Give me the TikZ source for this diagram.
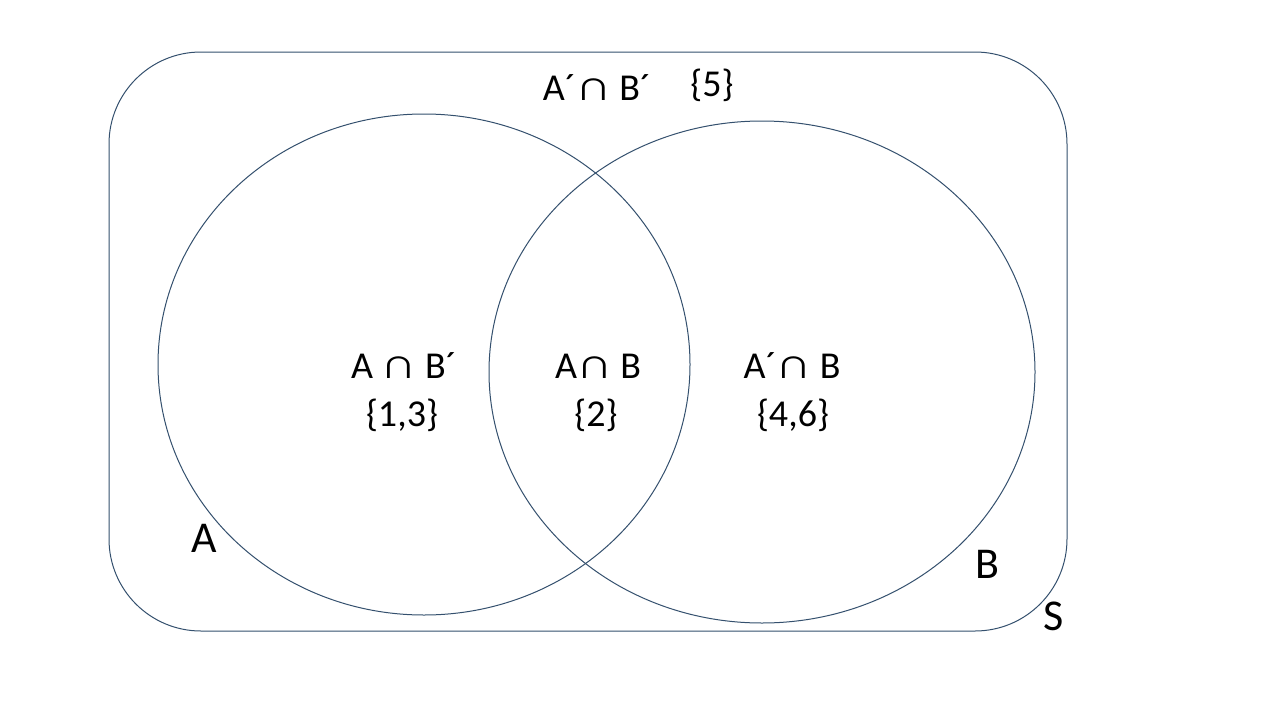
\documentclass[tikz,border=0pt]{standalone}
\usepackage{fontspec}
\setmainfont{Carlito}
\definecolor{edge}{HTML}{34506E}
\newcommand{\cp}{\scalebox{1.3}[1.1]{∩}}
\tikzset{
  outline/.style={draw=edge, line width=1pt},
  lbl/.style={font=\fontsize{38}{45}\selectfont, inner sep=0pt, anchor=base},
  toplbl/.style={font=\fontsize{38}{45}\selectfont, inner sep=0pt, anchor=base},
  setlbl/.style={font=\fontsize{44}{52}\selectfont, inner sep=0pt, anchor=base},
}
\begin{document}
\begin{tikzpicture}[x=1pt,y=-1pt]
\useasboundingbox (0,0) rectangle (1280,720);
\fill[white] (0,0) rectangle (1280,720);
\draw[outline, rounded corners=92pt] (109,52) rectangle (1067,631);
\draw[outline] (424,364.5) ellipse [x radius=266, y radius=250.5];
\draw[outline] (762,372) ellipse [x radius=273, y radius=251];
\node[lbl] (ab1) at (404,378) {A \cp\ B´};
\node[lbl] (s13) at (402,426) {\{1,3\}};
\node[lbl] (ab2) at (598,378) {A\cp\ B};
\node[lbl] (s2) at (596,426) {\{2\}};
\node[lbl] (ab3) at (792,378) {A´\cp\ B};
\node[lbl] (s46) at (793,426) {\{4,6\}};
\node[toplbl] (ab4) at (597,100) {A´\cp\ B´};
\node[toplbl] (s5) at (712,96) {\{5\}};
\node[setlbl] (la) at (204,552) {A};
\node[setlbl] (lb) at (987,578) {B};
\node[setlbl] (ls) at (1054,630) {S};
\end{tikzpicture}
\end{document}
